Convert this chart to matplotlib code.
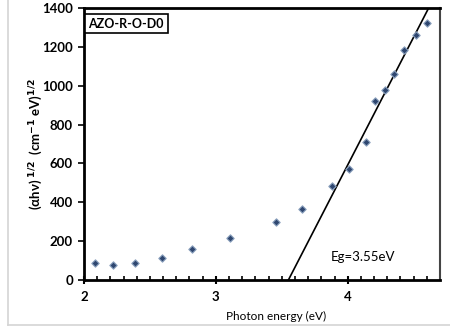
import matplotlib.pyplot as plt
from matplotlib.ticker import MultipleLocator
from matplotlib.lines import Line2D
import numpy as np

# Tauc plot data, photon energy (eV) vs (alpha h nu)^1/2
energy = [2.08, 2.22, 2.39, 2.59, 2.82, 3.11, 3.455, 3.65, 3.88, 4.01,
          4.14, 4.21, 4.285, 4.35, 4.43, 4.515, 4.60]
tauc = [86, 79, 86, 113, 161, 218, 299, 367, 485, 571,
        710, 921, 978, 1062, 1184, 1263, 1324]

eg = 3.55
slope = 1316.0
sample = "AZO-R-O-D0"

font = ['Lato', 'DejaVu Sans']
plt.rcParams['font.family'] = font
plt.rcParams['mathtext.default'] = 'bf'

fig = plt.figure(figsize=(4.5, 3.27), dpi=100)
ax = fig.add_axes([0.1867, 0.1437, 0.7911, 0.8318])

ax.scatter(energy, tauc, marker='D', s=14, facecolor='#2f4770',
           edgecolor='#8aa0bd', linewidth=0.8, zorder=3)

# linear fit extrapolated to the energy axis
x_fit = np.array([eg, eg + 1400 / slope])
ax.plot(x_fit, slope * (x_fit - eg), color='black', lw=1.2, zorder=2)

ax.set_xlim(2, 4.7)
ax.set_ylim(0, 1400)
ax.xaxis.set_major_locator(MultipleLocator(1))
ax.xaxis.set_minor_locator(MultipleLocator(0.1))
ax.yaxis.set_major_locator(MultipleLocator(200))
ax.tick_params(axis='x', which='major', direction='inout', length=6, width=1.5,
               labelsize=9.5, pad=5)
ax.tick_params(axis='x', which='minor', direction='in', length=3, width=1.2)
ax.tick_params(axis='y', which='major', direction='out', length=4, width=1.2,
               labelsize=9.5, pad=4)
for lbl in ax.get_xticklabels() + ax.get_yticklabels():
    lbl.set_fontweight('bold')

for side in ['left', 'top', 'bottom']:
    ax.spines[side].set_linewidth(2)
    ax.spines[side].set_color('black')
ax.spines['right'].set_linewidth(1.5)
ax.spines['right'].set_color('#444444')

ax.set_xlabel('Photon energy (eV)', fontsize=8.5)
ax.xaxis.set_label_coords(0.54, -0.115)
ax.set_ylabel(r'(αhν)$^{\ 1/2}$  (cm$^{-1}$ eV)$^{1/2}$', fontsize=9.5,
              fontweight='bold')
ax.yaxis.set_label_coords(-0.11, 0.5)

ax.text(3.87, 118, 'Eg=3.55eV', fontsize=9.5, ha='left', va='center')
ax.text(0.012, 0.965, sample, transform=ax.transAxes, fontsize=9,
        fontweight='bold', ha='left', va='top',
        bbox=dict(boxstyle='square,pad=0.3', facecolor='white',
                  edgecolor='black', linewidth=1.2))

# light frame around the chart area
fig.add_artist(Line2D([8 / 450, 8 / 450], [0.006, 1.0], color='#d4d4d4',
                      lw=1.2, transform=fig.transFigure))
fig.add_artist(Line2D([8 / 450, 1.0], [0.006, 0.006], color='#d4d4d4',
                      lw=1.2, transform=fig.transFigure))

fig.savefig('out.png', dpi=100)
